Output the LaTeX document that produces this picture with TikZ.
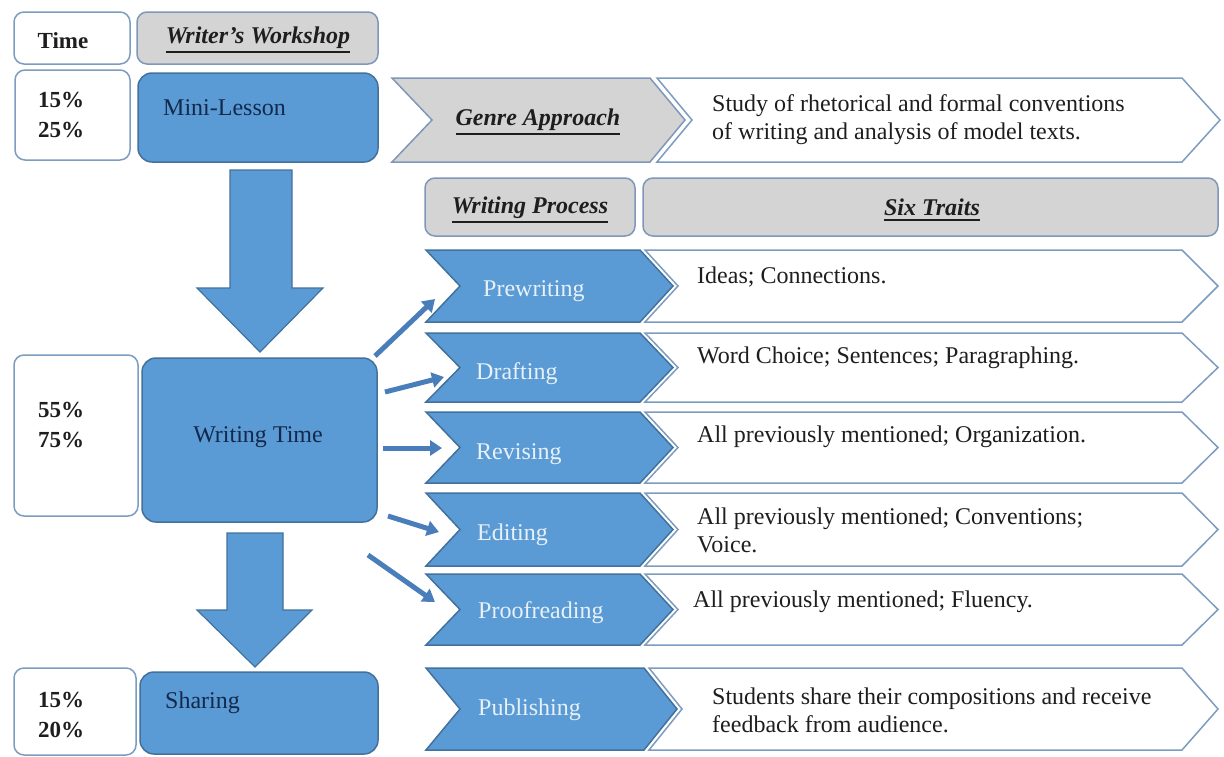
\documentclass[tikz,border=0pt]{standalone}
\usepackage{fontspec}
\setmainfont{Liberation Serif}
\usetikzlibrary{arrows.meta}
\newcommand{\thickul}[1]{\leavevmode\vtop{\hbox{#1}\kern3pt\hrule height 1.8pt}}
\definecolor{bfill}{HTML}{5B9BD5}
\definecolor{bline}{HTML}{41719C}
\definecolor{gfill}{HTML}{D4D4D4}
\definecolor{gline}{HTML}{7F97B8}
\definecolor{wline}{HTML}{7C9CC0}
\definecolor{navy}{HTML}{13294B}
\definecolor{ltxt}{HTML}{E8F0F8}
\definecolor{arr}{HTML}{4A7EBB}
\definecolor{txt}{HTML}{1E1E1E}
\begin{document}
\begin{tikzpicture}[x=1pt,y=-1pt,
 every node/.style={font=\fontsize{24}{28}\selectfont, inner sep=0pt, text=txt},
 whitebox/.style={draw=wline, line width=1.5pt, fill=white, rounded corners=10pt},
 graybox/.style={draw=gline, line width=1.5pt, fill=gfill, rounded corners=10pt},
 bluebox/.style={draw=bline, line width=1.5pt, fill=bfill, rounded corners=14pt},
 bluechev/.style={draw=bline, line width=1.5pt, fill=bfill},
 whitechev/.style={draw=wline, line width=1.5pt, fill=white},
 graychev/.style={draw=gline, line width=1.5pt, fill=gfill},
 conn/.style={draw=arr, line width=5pt, -{Triangle[length=12pt,width=15pt]}},
 bigarrow/.style={draw=bline, line width=1.2pt, fill=bfill},
 hd/.style={font=\fontsize{24}{28}\selectfont\bfseries\itshape},
 pct/.style={font=\fontsize{23}{30}\selectfont\bfseries, align=left, anchor=west},
 bluetxt/.style={text=navy, anchor=west},
 steptxt/.style={text=ltxt, anchor=west},
 desc/.style={anchor=west, align=left},
]
\useasboundingbox (0,0) rectangle (1224,756);

% ---- header row
\node[whitebox, minimum width=116pt, minimum height=52pt] (timebox) at (72,38) {};
\node[font=\fontsize{23}{28}\selectfont\bfseries] (timetxt) at (63,41) {Time};
\node[graybox, minimum width=241pt, minimum height=52pt] (wwbox) at (257.5,38) {};
\node[hd] (wwtxt) at (258,40) {\thickul{Writer’s Workshop}};

% ---- left column
\node[whitebox, minimum width=115pt, minimum height=90pt] (p1) at (72.5,115) {};
\node[pct] (p1t) at (38,115) {15\%\\25\%};
\node[bluebox, minimum width=240pt, minimum height=89pt] (mini) at (258,117.5) {};
\node[bluetxt] (minit) at (163,108) {Mini-Lesson};

\node[whitebox, minimum width=124pt, minimum height=161pt] (p2) at (76,435.5) {};
\node[pct] (p2t) at (38,425) {55\%\\75\%};
\node[bluebox, minimum width=235pt, minimum height=164pt] (wt) at (259.5,440) {};
\node[text=navy] (wtt) at (258,437) {Writing Time};

\node[whitebox, minimum width=122pt, minimum height=87pt] (p3) at (75,711.5) {};
\node[pct] (p3t) at (38,715) {15\%\\20\%};
\node[bluebox, minimum width=238pt, minimum height=82pt] (share) at (259,713) {};
\node[bluetxt] (sharet) at (165,703) {Sharing};

% ---- big down arrows
\draw[bigarrow] (230,170) -- (292,170) -- (292,288) -- (323,288) -- (260,352) -- (197,288) -- (230,288) -- cycle;
\draw[bigarrow] (227,533) -- (283,533) -- (283,610) -- (312,610) -- (255,667) -- (197,610) -- (227,610) -- cycle;

% ---- genre approach
\draw[whitechev] (657,78) -- (1182,78) -- (1220,120) -- (1182,162) -- (657,162) -- (692,120) -- cycle;
\draw[graychev] (392,78) -- (650,78) -- (685,120) -- (650,162) -- (392,162) -- (432,120) -- cycle;
\node[hd] (genre) at (538,122) {\thickul{Genre Approach}};
\node[desc] (genred) at (712,120) {Study of rhetorical and formal conventions\\of writing and analysis of model texts.};

% ---- process headers
\node[graybox, minimum width=210pt, minimum height=58pt] (wp) at (530,207) {};
\node[hd] (wpt) at (530,210) {\thickul{Writing Process}};
\node[graybox, minimum width=575pt, minimum height=58pt] (st) at (930.5,207) {};
\node[hd] (stt) at (932,210) {\thickul{Six Traits}};

% ---- process rows
\foreach \t/\b/\tip in {250/322/673, 333/402/673, 412/483/673, 493/566/673, 574/645/673, 668/750/677}{
  \pgfmathsetmacro{\c}{(\t+\b)/2}
  \pgfmathsetmacro{\wl}{\tip-28}
  \pgfmathsetmacro{\wn}{\tip+5}
  \pgfmathsetmacro{\bl}{\tip-33}
  \draw[whitechev] (\wl,\t) -- (1182,\t) -- (1218,\c) -- (1182,\b) -- (\wl,\b) -- (\wn,\c) -- cycle;
  \draw[bluechev] (426,\t) -- (\bl,\t) -- (\tip,\c) -- (\bl,\b) -- (426,\b) -- (460,\c) -- cycle;
}
\node[steptxt] (s1) at (483,291) {Prewriting};
\node[steptxt] (s2) at (476,374) {Drafting};
\node[steptxt] (s3) at (476,454) {Revising};
\node[steptxt] (s4) at (477,535) {Editing};
\node[steptxt] (s5) at (478,613) {Proofreading};
\node[steptxt] (s6) at (478,710) {Publishing};

\node[desc] (d1) at (697,277) {Ideas; Connections.};
\node[desc] (d2) at (697,358) {Word Choice; Sentences; Paragraphing.};
\node[desc] (d3) at (697,437) {All previously mentioned; Organization.};
\node[desc] (d4) at (697,530) {All previously mentioned; Conventions;\\Voice.};
\node[desc] (d5) at (693,602) {All previously mentioned; Fluency.};
\node[desc] (d6) at (712,710) {Students share their compositions and receive\\feedback from audience.};

% ---- connectors from Writing Time
\coordinate (a1s) at (375,356); \coordinate (a1e) at (435,299);
\coordinate (a2s) at (385,392); \coordinate (a2e) at (444,377);
\coordinate (a3s) at (383,448); \coordinate (a3e) at (442,448);
\coordinate (a4s) at (388,516); \coordinate (a4e) at (439,532);
\coordinate (a5s) at (368,555); \coordinate (a5e) at (435,602);
\draw[conn] (a1s) -- (a1e);
\draw[conn] (a2s) -- (a2e);
\draw[conn] (a3s) -- (a3e);
\draw[conn] (a4s) -- (a4e);
\draw[conn] (a5s) -- (a5e);
\end{tikzpicture}
\end{document}
